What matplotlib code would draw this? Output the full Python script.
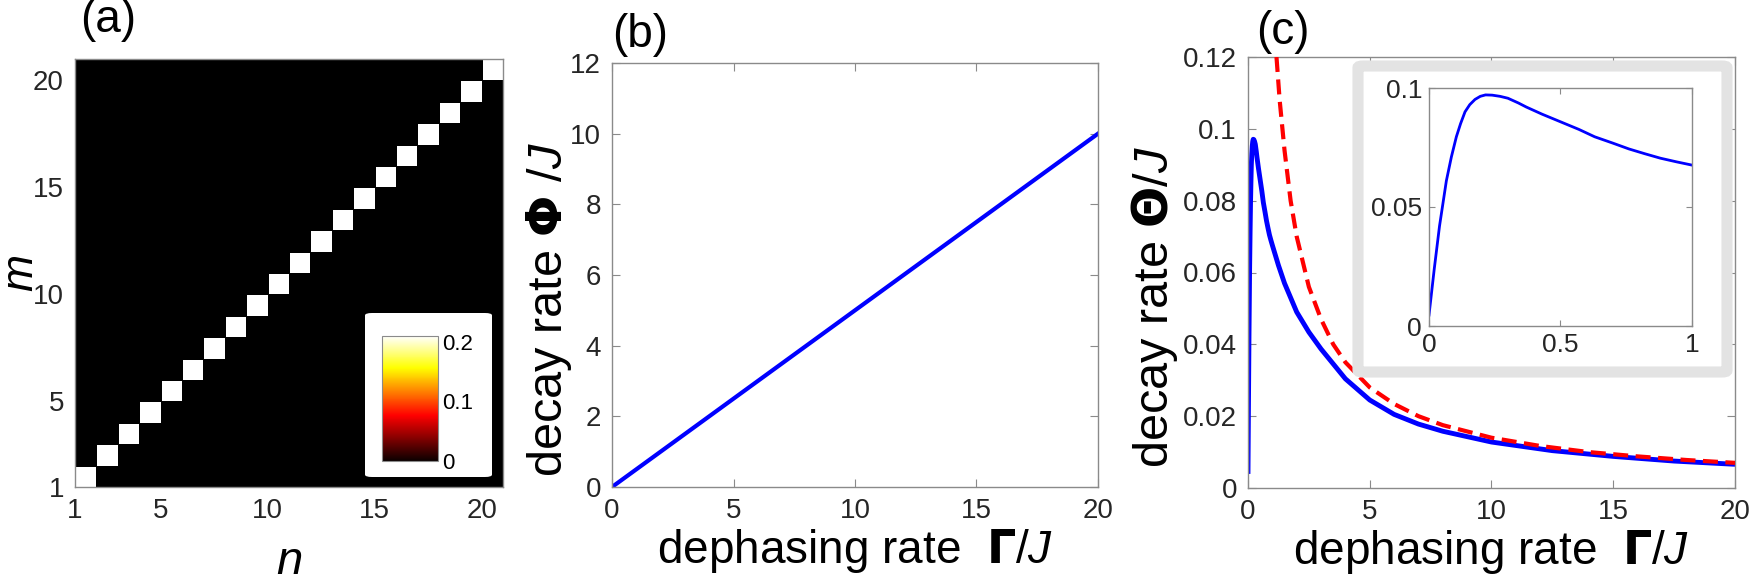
import numpy as np
import matplotlib
matplotlib.use("Agg")
import matplotlib.pyplot as plt
from matplotlib.patches import FancyBboxPatch
from matplotlib.colors import Normalize, ListedColormap

plt.rcParams["font.family"] = ["Liberation Sans", "DejaVu Sans"]
plt.rcParams["mathtext.fontset"] = "custom"
plt.rcParams["mathtext.rm"] = "Liberation Sans"
plt.rcParams["mathtext.it"] = "Liberation Sans:italic"

# (a) site occupation map, diagonal cells only
n_sites = 20
diag_value = 0.21
cbar_ticks = [0, 0.1, 0.2]
grid_ticks = [1, 5, 10, 15, 20]

# (b) decay rate Phi vs dephasing rate
gamma_b = [0, 20]
phi_b = [0, 10]

# (c) decay rate Theta vs dephasing rate
gamma_c = [0.0, 0.02, 0.04, 0.066, 0.085, 0.104, 0.12, 0.137, 0.155, 0.175,
           0.195, 0.215, 0.24, 0.27, 0.3, 0.34, 0.37, 0.43, 0.5, 0.57, 0.63,
           0.7, 0.76, 0.82, 0.88, 0.94, 1.0, 1.25, 1.5, 2.0, 2.5, 3.0, 4.0,
           5.0, 6.0, 7.0, 8.0, 10.0, 12.5, 15.0, 17.5, 20.0]
theta_c = [0.0046, 0.024, 0.042, 0.061, 0.071, 0.0795, 0.085, 0.090, 0.093,
           0.0952, 0.0965, 0.0971, 0.0970, 0.0965, 0.0957, 0.0937, 0.092,
           0.089, 0.0858, 0.0826, 0.0795, 0.0768, 0.0744, 0.0724, 0.0705,
           0.069, 0.0676, 0.062, 0.057, 0.049, 0.0434, 0.0387, 0.0304, 0.0245,
           0.0205, 0.0178, 0.0158, 0.0128, 0.0104, 0.0088, 0.0075, 0.0066]
gamma_red = [1.17, 1.3, 1.5, 1.75, 2.0, 2.5, 3.0, 3.5, 4.0, 5.0, 6.0, 7.0, 8.0,
             10.0, 12.0, 14.0, 16.0, 18.0, 20.0]
theta_red = [0.12, 0.108, 0.094, 0.080, 0.070, 0.056, 0.047, 0.040, 0.035,
             0.028, 0.0234, 0.020, 0.0175, 0.014, 0.0117, 0.010, 0.0088,
             0.0078, 0.007]

W, H = 1758, 585
TICK = "#262626"
SPINE = "#8a8a8a"
BLUE = "#0000ff"
RED = "#ff0000"

fig = plt.figure(figsize=(W / 100, H / 100), dpi=100)


def px_axes(x0, y0, x1, y1, **kw):
    return fig.add_axes([x0 / W, 1 - y1 / H, (x1 - x0) / W, (y1 - y0) / H], **kw)


def style(ax, size=20):
    for s in ax.spines.values():
        s.set_color(SPINE)
        s.set_linewidth(1.0)
    ax.tick_params(direction="in", length=6, width=0.8, color=SPINE,
                   labelsize=size, labelcolor=TICK, top=True, right=True, pad=8)


# ---- (a)
axa = px_axes(75, 59, 503, 487)
hot = plt.get_cmap("hot")(np.linspace(0, 1, 256))
hot[0] = [0, 0, 0, 1]
cmap = ListedColormap(hot)
edges = np.arange(1, n_sites + 2)
occ = np.zeros((n_sites, n_sites))
occ[np.arange(n_sites), np.arange(n_sites)] = diag_value
norm = Normalize(0, diag_value)
axa.pcolormesh(edges, edges, occ, cmap=cmap, norm=norm,
               edgecolors="k", linewidth=0.5)
axa.set_xlim(1, n_sites + 1)
axa.set_ylim(1, n_sites + 1)
axa.set_xticks(grid_ticks)
axa.set_yticks(grid_ticks)
style(axa)
axa.tick_params(length=0)
axa.set_xlabel("$n$", fontsize=34)
axa.set_ylabel("$m$", fontsize=32)
axa.xaxis.set_label_coords(0.5, -0.125)
axa.yaxis.set_label_coords(-0.078, 0.5)

box = FancyBboxPatch((365 / W, 1 - 477 / H), 127 / W, 164 / H,
                     boxstyle="round,pad=0,rounding_size=0.004",
                     transform=fig.transFigure, facecolor="white",
                     edgecolor="none", zorder=2)
fig.patches.append(box)
cax = px_axes(382, 336, 438, 461, zorder=3)
sm = matplotlib.cm.ScalarMappable(norm=norm, cmap=cmap)
cb = fig.colorbar(sm, cax=cax, ticks=cbar_ticks)
cb.ax.set_yticklabels(["0", "0.1", "0.2"])
cb.outline.set_edgecolor(SPINE)
cb.ax.tick_params(length=0, labelsize=16, labelcolor="k", pad=3)

# ---- (b)
axb = px_axes(612, 63, 1098, 487)
axb.plot(gamma_b, phi_b, color=BLUE, lw=3)
axb.set_xlim(0, 20)
axb.set_ylim(0, 12)
axb.set_xticks([0, 5, 10, 15, 20])
axb.set_yticks(np.arange(0, 13, 2))
style(axb)
axb.set_xlabel(r"dephasing rate  $\mathbf{\Gamma}$/$J$", fontsize=33, labelpad=2)
axb.set_ylabel(r"decay rate $\mathbf{\Phi}$ /$J$", fontsize=35)
axb.yaxis.set_label_coords(-0.078, 0.42)

# ---- (c)
axc = px_axes(1248, 57, 1735, 488)
axc.plot(gamma_red, theta_red, color=RED, lw=3, ls=(0, (3.6, 1.8)), zorder=3)
axc.plot(gamma_c, theta_c, color=BLUE, lw=3.5, zorder=2)
axc.set_xlim(0, 20)
axc.set_ylim(0, 0.12)
axc.set_xticks([0, 5, 10, 15, 20])
axc.set_yticks([0, 0.02, 0.04, 0.06, 0.08, 0.1, 0.12])
axc.set_yticklabels(["0", "0.02", "0.04", "0.06", "0.08", "0.1", "0.12"])
style(axc)
axc.set_xlabel(r"dephasing rate  $\mathbf{\Gamma}$/$J$", fontsize=33, labelpad=2)
axc.set_ylabel(r"decay rate $\mathbf{\Theta}$/$J$", fontsize=35)
axc.yaxis.set_label_coords(-0.14, 0.42)

frame = FancyBboxPatch((1358 / W, 1 - 372 / H), 369 / W, 306 / H,
                       boxstyle="round,pad=0,rounding_size=0.003",
                       transform=fig.transFigure, facecolor="white",
                       edgecolor="#e3e3e3", lw=8, zorder=2)
fig.patches.append(frame)
axi = px_axes(1429, 88, 1692, 326, zorder=3)
axi.plot(gamma_c, theta_c, color=BLUE, lw=2)
axi.set_xlim(0, 1)
axi.set_ylim(0, 0.1)
axi.set_xticks([0, 0.5, 1])
axi.set_xticklabels(["0", "0.5", "1"])
axi.set_yticks([0, 0.05, 0.1])
axi.set_yticklabels(["0", "0.05", "0.1"])
style(axi, size=19)
axi.tick_params(length=4, pad=5)

for x, y, t in [(108, 20, "(a)"), (640, 35, "(b)"), (1283, 32, "(c)")]:
    fig.text(x / W, 1 - y / H, t, fontsize=33, ha="center", va="center")

fig.savefig("out.png", dpi=100)
